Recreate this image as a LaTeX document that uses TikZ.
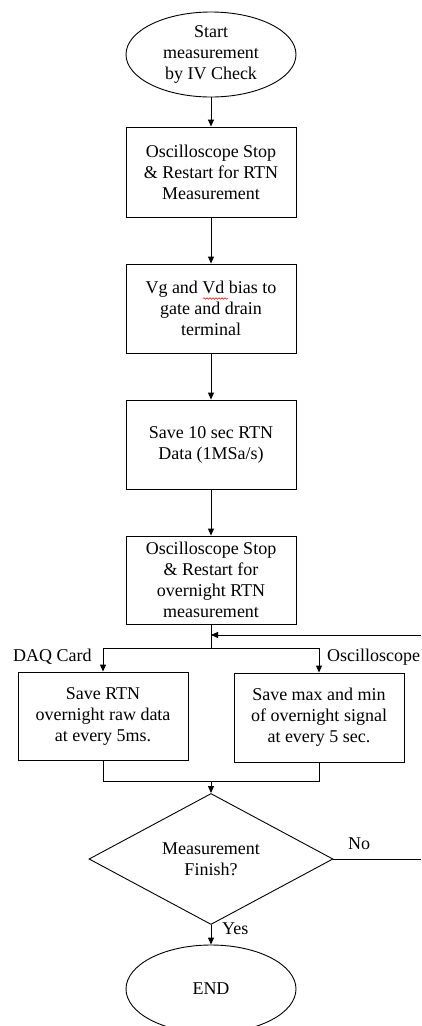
\documentclass[tikz,border=0pt]{standalone}
\usepackage{fontspec}
\setmainfont{Liberation Serif}
\usetikzlibrary{shapes.geometric,arrows.meta,decorations.pathmorphing}
\begin{document}
\begin{tikzpicture}[x=1pt,y=-1pt,
  every node/.style={font=\fontsize{18}{21}\selectfont},
  proc/.style={draw, line width=0.9pt, rectangle, minimum width=170pt,
    minimum height=89pt, inner sep=0pt, align=center},
  term/.style={draw, line width=0.9pt, ellipse, minimum width=170pt,
    minimum height=86pt, inner sep=0pt, align=center},
  decision/.style={draw, diamond, line width=0.9pt, minimum width=244pt,
    minimum height=114pt, inner sep=0pt, align=center},
  flow/.style={line width=0.9pt, -{Triangle[length=7pt,width=6pt]}},
  link/.style={line width=0.9pt},
  lbl/.style={anchor=base west, inner sep=0pt},
  spellmark/.style={red, line width=0.5pt, decorate,
    decoration={snake, amplitude=0.8pt, segment length=3pt}}]
\useasboundingbox (0,0) rectangle (421,1026);
\clip (0,0) rectangle (421,1026);

% process steps
\node[term, minimum height=85pt] (start) at (211,54.5) {Start\\measurement\\by IV Check};
\node[proc, minimum height=90pt] (osc) at (211,172) {Oscilloscope Stop\\\& Restart for RTN\\Measurement};
\node[proc] (bias) at (211,308.5) {Vg and Vd bias to\\gate and drain\\terminal};
\node[proc] (save) at (211,444.5) {Save 10 sec RTN\\Data (1MSa/s)};
\node[proc, minimum height=88pt] (oscnight) at (211,580) {Oscilloscope Stop\\\& Restart for\\overnight RTN\\measurement};
\node[proc, minimum height=88pt] (daq) at (103,716) {Save RTN\\overnight raw data\\at every 5ms.};
\node[proc] (scope) at (319,717.5) {Save max and min\\of overnight signal\\at every 5 sec.};
\node[decision] (finish) at (211,859) {Measurement\\Finish?};
\node[term, minimum height=88pt] (end) at (211,989) {END};

% branch labels
\node[lbl] (daqlbl) at (13,661) {DAQ Card};
\node[lbl] (scopelbl) at (327,661) {Oscilloscope};
\node[lbl] (nolbl) at (348,849) {No};
\node[lbl] (yeslbl) at (222,934) {Yes};

% junction points
\coordinate (split) at (211,648);
\coordinate (loopin) at (421,635);
\coordinate (merge) at (211,781);
\coordinate (noend) at (421,859);

% connectors
\draw[flow] (start.south) -- (osc.north);
\draw[flow] (osc.south) -- (bias.north);
\draw[flow] (bias.south) -- (save.north);
\draw[flow] (save.south) -- (oscnight.north);
\draw[link] (oscnight.south) -- (split);
\draw[flow] (split) -| (daq.north);
\draw[flow] (split) -| (scope.north);
\draw[flow] (loopin) -- (oscnight.south |- loopin);
\draw[link] (daq.south) |- (merge);
\draw[link] (scope.south) |- (merge);
\draw[flow] (merge) -- (finish.north);
\draw[link] (finish.east) -- (noend);
\draw[flow] (finish.south) -- (end.north);

% spelling underline under "Vd"
\draw[spellmark] (203,298.5) -- (228,298.5);
\end{tikzpicture}
\end{document}
